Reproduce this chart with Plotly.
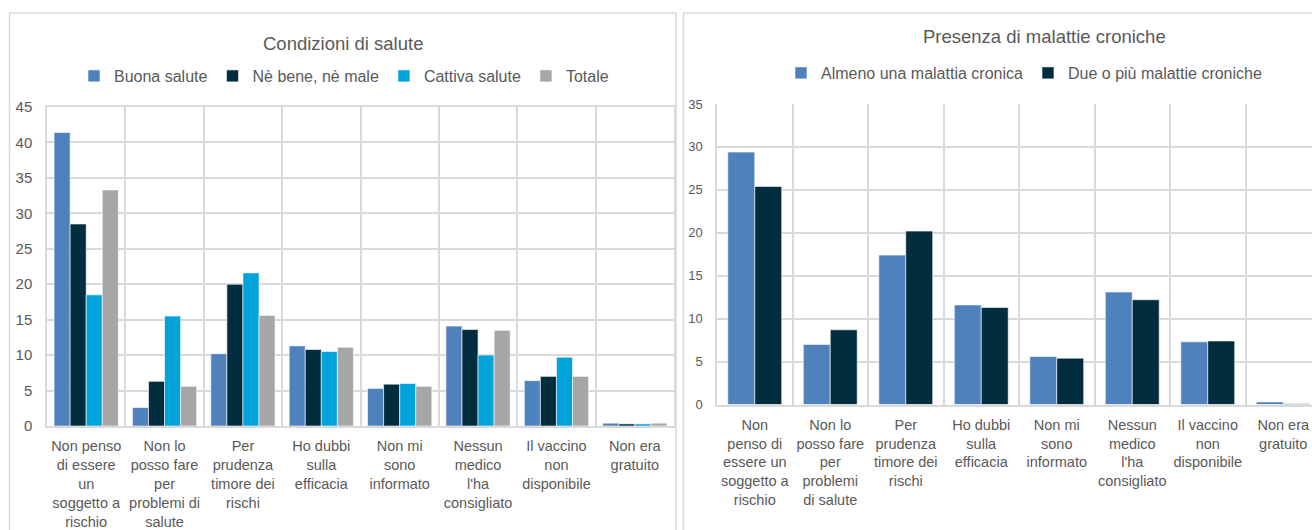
import plotly.graph_objects as go

W, H = 1312, 530


def px(x):
    return x / W


def py(y):
    return 1 - y / H


# ---------------- data ----------------
cats_left = [
    "Non penso<br>di essere<br>un<br>soggetto a<br>rischio",
    "Non lo<br>posso fare<br>per<br>problemi di<br>salute",
    "Per<br>prudenza<br>timore dei<br>rischi",
    "Ho dubbi<br>sulla<br>efficacia",
    "Non mi<br>sono<br>informato",
    "Nessun<br>medico<br>l'ha<br>consigliato",
    "Il vaccino<br>non<br>disponibile",
    "Non era<br>gratuito",
]
cats_right = [
    "Non<br>penso di<br>essere un<br>soggetto a<br>rischio",
    "Non lo<br>posso fare<br>per<br>problemi<br>di salute",
    "Per<br>prudenza<br>timore dei<br>rischi",
    "Ho dubbi<br>sulla<br>efficacia",
    "Non mi<br>sono<br>informato",
    "Nessun<br>medico<br>l'ha<br>consigliato",
    "Il vaccino<br>non<br>disponibile",
    "Non era<br>gratuito",
]

names_left = ["Buona salute", "Nè bene, nè male", "Cattiva salute", "Totale"]
buona = [41.4, 2.6, 10.2, 11.3, 5.3, 14.1, 6.4, 0.4]
neutro = [28.5, 6.3, 20.0, 10.8, 5.9, 13.6, 7.0, 0.3]
cattiva = [18.5, 15.5, 21.6, 10.5, 6.0, 10.0, 9.7, 0.3]
totale = [33.3, 5.6, 15.6, 11.1, 5.6, 13.5, 7.0, 0.4]

names_right = ["Almeno una malattia cronica", "Due o più malattie croniche"]
almeno = [29.4, 7.0, 17.4, 11.6, 5.6, 13.1, 7.3, 0.3]
due = [25.4, 8.7, 20.2, 11.3, 5.4, 12.2, 7.4, 0.1]

title_left = "Condizioni di salute"
title_right = "Presenza di malattie croniche"

# ---------------- style ----------------
colors_left = ["#4F81BD", "#012D3F", "#00A3DA", "#A6A6A6"]
colors_right = ["#4F81BD", "#012D3F"]
grid = "#D9D9D9"
txt = "#595959"
font = "Liberation Sans, Arial, sans-serif"

fig = go.Figure()
for name, vals, c in zip(names_left, [buona, neutro, cattiva, totale], colors_left):
    fig.add_trace(go.Bar(
        x=cats_left, y=vals, name=name, xaxis="x", yaxis="y", legend="legend",
        marker=dict(color=c, line=dict(color="white", width=0.6)),
        hoverinfo="y+name",
    ))

bw = 0.357
for name, vals, c, off in zip(names_right, [almeno, due], colors_right, [-bw, 0]):
    fig.add_trace(go.Bar(
        x=cats_right, y=vals, name=name, xaxis="x2", yaxis="y2", legend="legend2",
        width=bw, offset=off,
        marker=dict(color=c, line=dict(color="white", width=0.6)),
        hoverinfo="y+name",
    ))

axis_common = dict(
    showgrid=True, gridcolor=grid, gridwidth=1.5,
    linecolor=grid, linewidth=1.5, ticks="", automargin=False,
    fixedrange=True,
)

# right plot area runs past the window edge (category width ~75.5px from x=717)
right_span = (1312 - 717) / 75.5

fig.update_layout(
    width=W, height=H,
    margin=dict(l=0, r=0, t=0, b=0),
    paper_bgcolor="white", plot_bgcolor="white",
    barmode="group", bargap=0.18, bargroupgap=0,
    font=dict(family=font, color=txt, size=14.5),
    xaxis=dict(
        domain=[px(47), px(674)], anchor="y", type="category",
        tickson="boundaries", showline=True, mirror=True, tickangle=0,
        tickfont=dict(size=14.5, color=txt), ticklabelstandoff=6,
        **axis_common,
    ),
    yaxis=dict(
        domain=[py(426), py(107)], anchor="x", range=[0, 45], dtick=5,
        showline=True, mirror=True, zeroline=False,
        tickfont=dict(size=15, color=txt), ticklabelstandoff=10,
        **axis_common,
    ),
    xaxis2=dict(
        domain=[px(717), 1], anchor="y2", type="category",
        range=[-0.5, -0.5 + right_span], tickson="boundaries", showline=True,
        mirror=False, tickangle=0, tickfont=dict(size=14.5, color=txt),
        ticklabelstandoff=6,
        **axis_common,
    ),
    yaxis2=dict(
        domain=[py(404.5), py(104)], anchor="x2", range=[0, 35], dtick=5,
        showline=True, mirror=False, zeroline=False,
        tickfont=dict(size=13, color=txt), ticklabelstandoff=10,
        **axis_common,
    ),
    legend=dict(
        orientation="h", x=px(344), y=py(76), xanchor="center", yanchor="middle",
        font=dict(size=16, color=txt), bgcolor="rgba(0,0,0,0)", traceorder="normal",
    ),
    legend2=dict(
        orientation="h", x=px(1024), y=py(73), xanchor="center", yanchor="middle",
        font=dict(size=16, color=txt), bgcolor="rgba(0,0,0,0)", traceorder="normal",
    ),
    annotations=[
        dict(text=title_left, x=px(343), y=py(44), xref="paper", yref="paper",
             showarrow=False, xanchor="center", yanchor="middle",
             font=dict(size=18.5, color=txt)),
        dict(text=title_right, x=px(1044), y=py(37), xref="paper", yref="paper",
             showarrow=False, xanchor="center", yanchor="middle",
             font=dict(size=18.5, color=txt)),
    ],
    shapes=[
        dict(type="rect", xref="paper", yref="paper", x0=px(9.5), x1=px(676),
             y0=-0.2, y1=py(13), line=dict(color=grid, width=1.5), layer="below"),
        dict(type="rect", xref="paper", yref="paper", x0=px(683.5), x1=1.2,
             y0=-0.2, y1=py(13), line=dict(color=grid, width=1.5), layer="below"),
    ],
)

fig.write_html(
    "out.html",
    config={"displayModeBar": False},
    post_script="document.body.style.margin='0px';document.body.style.overflow='hidden';",
)
